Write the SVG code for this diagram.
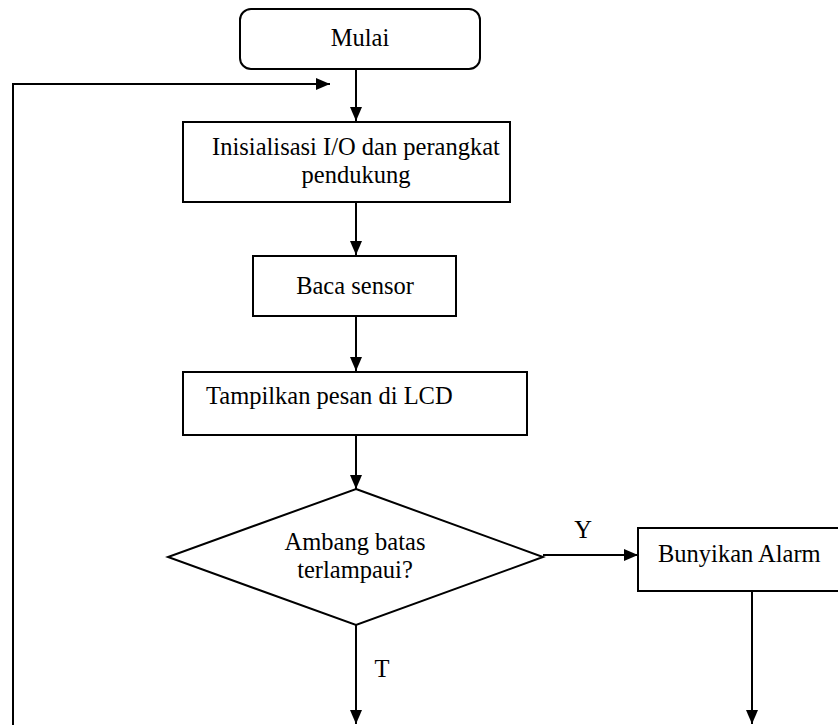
<svg xmlns="http://www.w3.org/2000/svg" width="838" height="725" viewBox="0 0 838 725">
<style>
.box{fill:#fff;stroke:#000;stroke-width:2}
.ln{fill:none;stroke:#000;stroke-width:2}
text{font-family:"Liberation Serif","Times New Roman",serif;font-size:24.5px;fill:#000}
.c{text-anchor:middle}
</style>
<defs>
<marker id="ah" markerWidth="14" markerHeight="12" refX="14" refY="6" orient="auto" markerUnits="userSpaceOnUse">
<path d="M0,0 L14,6 L0,12 Z" fill="#000"/>
</marker>
</defs>
<rect width="838" height="725" fill="#fff"/>
<g id="connectors">
<line class="ln" x1="356" y1="69" x2="356" y2="121" marker-end="url(#ah)"/>
<line class="ln" x1="356" y1="202" x2="356" y2="255" marker-end="url(#ah)"/>
<line class="ln" x1="356" y1="316" x2="356" y2="371" marker-end="url(#ah)"/>
<line class="ln" x1="356" y1="435" x2="356" y2="489" marker-end="url(#ah)"/>
<line class="ln" x1="543" y1="555" x2="638" y2="555" marker-end="url(#ah)"/>
<line class="ln" x1="356" y1="625" x2="356" y2="724" marker-end="url(#ah)"/>
<line class="ln" x1="752" y1="591" x2="752" y2="724" marker-end="url(#ah)"/>
<polyline class="ln" points="13,725 13,84 330,84" marker-end="url(#ah)"/>
<text x="583" y="538" class="c">Y</text>
<text x="382" y="677" class="c">T</text>
</g>
<g id="start">
<rect class="box" x="240" y="9" width="240" height="60" rx="11"/>
<text x="360" y="46" class="c">Mulai</text>
</g>
<g id="init">
<rect class="box" x="183" y="122" width="327" height="80"/>
<text x="356" y="155" class="c">Inisialisasi I/O dan perangkat</text>
<text x="356" y="183" class="c">pendukung</text>
</g>
<g id="read">
<rect class="box" x="253" y="256" width="203" height="60"/>
<text x="355" y="294" class="c">Baca sensor</text>
</g>
<g id="display">
<rect class="box" x="183" y="372" width="344" height="63"/>
<text x="206" y="404">Tampilkan pesan di LCD</text>
</g>
<g id="decision">
<polygon class="box" points="356,489 543,557 356,625 168,557"/>
<text x="355" y="550" class="c">Ambang batas</text>
<text x="355" y="578" class="c">terlampaui?</text>
</g>
<g id="alarm">
<rect class="box" x="638" y="528" width="210" height="63"/>
<text x="658" y="562">Bunyikan Alarm</text>
</g>
</svg>
